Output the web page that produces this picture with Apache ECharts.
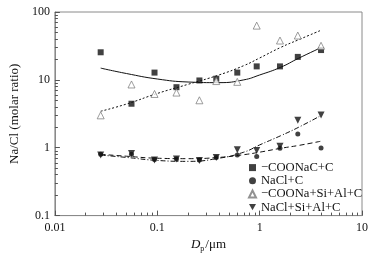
<!DOCTYPE html>
<html>
<head>
<meta charset="utf-8">
<script src="https://cdn.jsdelivr.net/npm/echarts@6/dist/echarts.min.js"></script>
<style>
  html, body { margin: 0; padding: 0; background: #fff; }
  #chart { width: 381px; height: 258px; }
</style>
</head>
<body>
<div id="chart"></div>
<script>
// impactor stage diameters (um)
const diameters = [0.028, 0.056, 0.094, 0.154, 0.258, 0.377, 0.605, 0.936, 1.58, 2.36, 3.98];
const coonaC = [25.5, 4.45, 12.8, 7.8, 9.8, 10.4, 12.8, 15.8, 15.8, 21.8, 27.5];
const naclC = [0.8, 0.8, 0.67, 0.68, 0.66, 0.72, 0.78, 0.74, 0.98, 1.6, 0.99];
const coonaSiAlC = [3.0, 8.55, 6.2, 6.5, 5.0, 9.6, 9.35, 63, 38, 45, 31.8];
const naclSiAlC = [0.78, 0.82, 0.66, 0.68, 0.65, 0.72, 0.93, 0.91, 1.05, 2.55, 3.04];

// fitted curves
const fitX = [0.028, 0.05, 0.1, 0.2, 0.4, 0.7, 1, 1.6, 2.4, 4];
const coonaCFit = [14.9, 12.4, 10.3, 9.3, 9.1, 10.0, 11.8, 15.3, 20.8, 30];
const coonaSiAlCFit = [3.45, 4.4, 6.3, 8.6, 11.8, 16.2, 21, 30, 39, 54];
const naclCFit = [0.8, 0.75, 0.7, 0.69, 0.72, 0.79, 0.86, 0.98, 1.08, 1.25];
const naclSiAlCFit = [0.78, 0.72, 0.65, 0.63, 0.7, 0.86, 1.1, 1.5, 2.0, 3.0];

const seriesNames = ['\u2212COONaC+C', 'NaCl+C', '\u2212COONa+Si+Al+C', 'NaCl+Si+Al+C'];
const xMinorTicks = [0.02, 0.03, 0.04, 0.05, 0.06, 0.07, 0.08, 0.09,
    0.2, 0.3, 0.4, 0.5, 0.6, 0.7, 0.8, 0.9, 2, 3, 4, 5, 6, 7, 8, 9];
const yMinorTicks = [0.2, 0.3, 0.4, 0.5, 0.6, 0.7, 0.8, 0.9,
    2, 3, 4, 5, 6, 7, 8, 9, 20, 30, 40, 50, 60, 70, 80, 90];

const font = 'Liberation Serif';
const zip = (xs, ys) => xs.map((x, i) => [x, ys[i]]);

const chart = echarts.init(document.getElementById('chart'));

const fitLine = (data, type) => ({
    type: 'line',
    data: zip(fitX, data),
    smooth: true,
    showSymbol: false,
    silent: true,
    z: 1,
    lineStyle: { color: '#111', width: 1, type: type },
});

// minor ticks drawn on a hidden linear axis in log10 units
const minorAxis = (vals, min, max, position) => ({
    type: 'value',
    min: Math.log10(min),
    max: Math.log10(max),
    position: position,
    axisLine: { show: false, onZero: false },
    axisLabel: { show: false },
    splitLine: { show: false },
    axisTick: {
        show: true, inside: true, length: 3,
        customValues: vals.map((v) => Math.log10(v)),
        lineStyle: { color: '#555' },
    },
});

const option = {
    backgroundColor: '#fff',
    animation: false,
    grid: {
        left: 46, right: 19, top: 12, bottom: 39,
        show: true, borderColor: '#8a8a8a', borderWidth: 1,
    },
    legend: {
        data: seriesNames,
        orient: 'vertical',
        left: 248,
        top: 161,
        padding: 0,
        itemGap: 0,
        itemWidth: 7,
        itemHeight: 7,
        textStyle: { fontFamily: font, fontSize: 12.6, lineHeight: 13.2, color: '#111' },
    },
    xAxis: [
        {
            type: 'log',
            logBase: 10,
            min: 0.01,
            max: 10,
            position: 'bottom',
            axisLine: { onZero: false, lineStyle: { color: '#8a8a8a' } },
            axisTick: { inside: true, length: 5, lineStyle: { color: '#555' } },
            axisLabel: { color: '#111', fontFamily: font, fontSize: 12, margin: 6, formatter: (v) => String(v) },
            splitLine: { show: false },
            name: '{i|D}{s|p}{n|/\u03bcm}',
            nameLocation: 'middle',
            nameGap: 18,
            nameTextStyle: {
                rich: {
                    i: { fontFamily: font, fontSize: 13, fontStyle: 'italic', color: '#111' },
                    s: { fontFamily: font, fontSize: 8, color: '#111', padding: [8, 1, 0, 0] },
                    n: { fontFamily: font, fontSize: 13, color: '#111' },
                },
            },
        },
        minorAxis(xMinorTicks, 0.01, 10, 'bottom'),
    ],
    yAxis: [
        {
            type: 'log',
            logBase: 10,
            min: 0.1,
            max: 100,
            position: 'left',
            axisLine: { show: true, onZero: false, lineStyle: { color: '#8a8a8a' } },
            axisTick: { show: true, inside: true, length: 5, lineStyle: { color: '#555' } },
            axisLabel: { color: '#111', fontFamily: font, fontSize: 12, margin: 5, formatter: (v) => String(v) },
            splitLine: { show: false },
            name: 'Na/Cl (molar ratio)',
            nameLocation: 'middle',
            nameGap: 24,
            nameTextStyle: { fontFamily: font, fontSize: 13, color: '#111' },
        },
        minorAxis(yMinorTicks, 0.1, 100, 'left'),
    ],
    series: [
        fitLine(coonaCFit, 'solid'),
        fitLine(coonaSiAlCFit, [2, 2]),
        fitLine(naclCFit, [5, 3]),
        fitLine(naclSiAlCFit, [5, 2, 1, 2]),
        {
            name: seriesNames[0],
            type: 'scatter',
            data: zip(diameters, coonaC),
            symbol: 'rect',
            symbolSize: 6,
            itemStyle: { color: '#111' },
            z: 3,
        },
        {
            name: seriesNames[1],
            type: 'scatter',
            data: zip(diameters, naclC),
            symbol: 'circle',
            symbolSize: 5,
            itemStyle: { color: '#111' },
            z: 3,
        },
        {
            name: seriesNames[2],
            type: 'scatter',
            data: zip(diameters, coonaSiAlC),
            symbol: 'triangle',
            symbolSize: 7,
            itemStyle: { color: '#fff', borderColor: '#777', borderWidth: 0.9 },
            z: 3,
        },
        {
            name: seriesNames[3],
            type: 'scatter',
            data: zip(diameters, naclSiAlC),
            symbol: 'path://M0,0 L10,0 L5,9 Z',
            symbolSize: 7,
            itemStyle: { color: '#111' },
            z: 3,
        },
    ],
};

chart.setOption(option);
</script>
</body>
</html>
